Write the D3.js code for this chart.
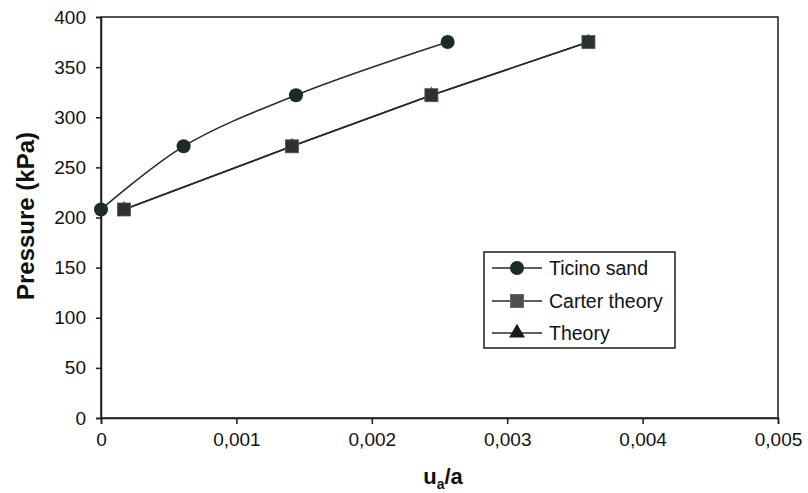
<!DOCTYPE html>
<html><head><meta charset="utf-8">
<script src="https://cdn.jsdelivr.net/npm/d3@7"></script>
<style>body{margin:0;background:#fff}svg{display:block}text{font-family:"Liberation Sans",Arial,sans-serif;fill:#111}</style>
</head><body>
<script>
const xTicks = [0, 0.001, 0.002, 0.003, 0.004, 0.005];
const xTickLabels = ["0", "0,001", "0,002", "0,003", "0,004", "0,005"];
const yTicks = [0, 50, 100, 150, 200, 250, 300, 350, 400];
const ticinoX = [0, 0.00061, 0.00144, 0.00256];
const ticinoY = [208, 271, 322, 375];
const carterX = [0.00017, 0.00141, 0.00244, 0.0036];
const carterY = [208, 271, 322, 375];
const theoryX = [0.00017, 0.00141, 0.00244, 0.0036];
const theoryY = [208, 271, 322, 375];
const seriesNames = ["Ticino sand", "Carter theory", "Theory"];

const W = 808, H = 493;
const svg = d3.select("body").append("svg").attr("width", W).attr("height", H);
const x = d3.scaleLinear().domain([0, 0.005]).range([101, 778]);
const y = d3.scaleLinear().domain([0, 400]).range([418, 17]);
const ink = "#1c1c1c";

// frame
svg.append("rect").attr("x", 101).attr("y", 17).attr("width", 677).attr("height", 401)
  .attr("fill", "none").attr("stroke", ink).attr("stroke-width", 1.5);

const xAxis = svg.append("g").attr("transform", "translate(0,418)")
  .call(d3.axisBottom(x).tickValues(xTicks).tickFormat((d, i) => xTickLabels[i]).tickSize(6).tickPadding(9));
const yAxis = svg.append("g").attr("transform", "translate(101,0)")
  .call(d3.axisLeft(y).tickValues(yTicks).tickSize(5).tickPadding(10));
[xAxis, yAxis].forEach(g => {
  g.select(".domain").attr("stroke", ink).attr("stroke-width", 1.5);
  g.selectAll(".tick line").attr("stroke", ink).attr("stroke-width", 1.5);
  g.selectAll(".tick text").attr("font-size", 19).attr("fill", "#111")
    .style("font-family", '"Liberation Sans",Arial,sans-serif');
});

// titles
svg.append("text").attr("transform", "translate(34,216) rotate(-90)").attr("text-anchor", "middle")
  .attr("font-size", 24).attr("font-weight", "bold").text("Pressure (kPa)");
const xt = svg.append("text").attr("x", 443).attr("y", 484).attr("text-anchor", "middle")
  .attr("font-size", 22).attr("font-weight", "bold");
xt.append("tspan").text("u");
xt.append("tspan").attr("font-size", 14).attr("dy", 5).text("a");
xt.append("tspan").attr("dy", -5).text("/a");

// lines
const tic = ticinoX.map((d, i) => [d, ticinoY[i]]);
const car = carterX.map((d, i) => [d, carterY[i]]);
const the = theoryX.map((d, i) => [d, theoryY[i]]);
const lineSmooth = d3.line().x(d => x(d[0])).y(d => y(d[1])).curve(d3.curveCatmullRom.alpha(0.5));
const lineStraight = d3.line().x(d => x(d[0])).y(d => y(d[1]));
svg.append("path").attr("d", lineStraight(the)).attr("fill", "none").attr("stroke", "#2a2a2a").attr("stroke-width", 1.6);
svg.append("path").attr("d", lineStraight(car)).attr("fill", "none").attr("stroke", "#2a2a2a").attr("stroke-width", 1.6);
svg.append("path").attr("d", lineSmooth(tic)).attr("fill", "none").attr("stroke", "#2a2a2a").attr("stroke-width", 1.6);

const tri = d3.symbol().type(d3.symbolTriangle).size(90);
svg.selectAll(".tri").data(the).join("path").attr("transform", d => `translate(${x(d[0])},${y(d[1])})`)
  .attr("d", tri).attr("fill", "#1a1a1a");
svg.selectAll(".sq").data(car).join("rect")
  .attr("x", d => x(d[0]) - 6.5).attr("y", d => y(d[1]) - 6.5).attr("width", 13).attr("height", 13)
  .attr("fill", "#2b3131").attr("stroke", "#555").attr("stroke-width", 0.8);
svg.selectAll(".ci").data(tic).join("circle")
  .attr("cx", d => x(d[0])).attr("cy", d => y(d[1])).attr("r", 7).attr("fill", "#1d2a2a");

// legend
const lg = svg.append("g");
lg.append("rect").attr("x", 484).attr("y", 252).attr("width", 191).attr("height", 96)
  .attr("fill", "#fff").attr("stroke", ink).attr("stroke-width", 1.5);
const rowsY = [268, 301, 333];
seriesNames.forEach((n, i) => {
  const yy = rowsY[i];
  lg.append("line").attr("x1", 492).attr("x2", 542).attr("y1", yy).attr("y2", yy).attr("stroke", "#2a2a2a").attr("stroke-width", 1.6);
  if (i === 0) lg.append("circle").attr("cx", 517).attr("cy", yy).attr("r", 7).attr("fill", "#1d2a2a");
  if (i === 1) lg.append("rect").attr("x", 510.5).attr("y", yy - 6.5).attr("width", 13).attr("height", 13).attr("fill", "#4a5050").attr("stroke", "#666");
  if (i === 2) lg.append("path").attr("transform", `translate(517,${yy})`).attr("d", d3.symbol().type(d3.symbolTriangle).size(110)).attr("fill", "#1a1a1a");
  lg.append("text").attr("x", 549).attr("y", yy + 7).attr("font-size", 19.5).text(n);
});
</script>
</body></html>
